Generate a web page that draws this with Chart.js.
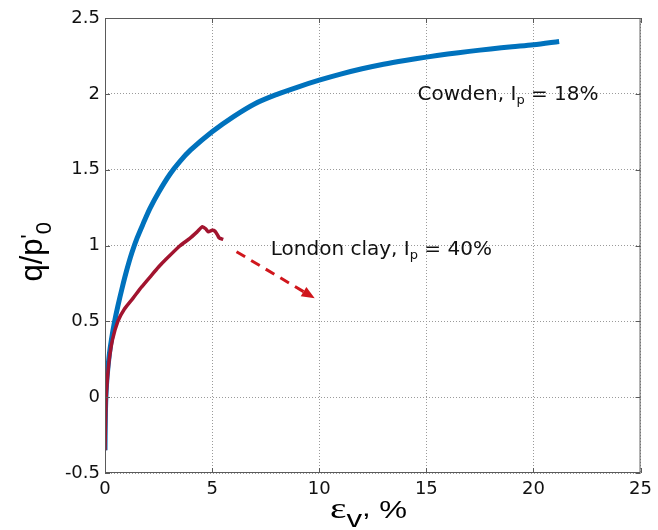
<!DOCTYPE html>
<html>
<head>
<meta charset="utf-8">
<script src="https://cdn.jsdelivr.net/npm/chart.js@4.4.1/dist/chart.umd.min.js"></script>
<style>
  html, body { margin: 0; padding: 0; background: #fff; }
  #wrap { width: 658px; height: 530px; }
</style>
</head>
<body>
<div id="wrap"><canvas id="chart" width="658" height="530"></canvas></div>
<script>
// axial strain (%) and normalised deviator stress q/p'0
var cowdenStrain = [0, 0.02, 0.05, 0.1, 0.2, 0.3, 0.45, 0.6, 0.8, 1.0, 1.25, 1.5, 1.8, 2.1, 2.5, 3.03, 3.5, 4, 5, 6, 7, 8, 9, 10, 11, 12, 13, 14, 15, 16, 17, 18, 19, 20, 21.2];
var cowdenQ = [-0.35, -0.1, 0.03, 0.14, 0.28, 0.38, 0.5, 0.6, 0.72, 0.83, 0.95, 1.05, 1.15, 1.245, 1.35, 1.47, 1.555, 1.63, 1.75, 1.85, 1.935, 1.995, 2.045, 2.09, 2.13, 2.165, 2.195, 2.22, 2.242, 2.262, 2.28, 2.296, 2.31, 2.323, 2.345];

var londonStrain = [0, 0.02, 0.05, 0.1, 0.2, 0.35, 0.6, 0.9, 1.32, 1.7, 2.1, 2.5, 2.87, 3.5, 3.96, 4.3, 4.55, 4.7, 4.82, 5.0, 5.13, 5.25, 5.33, 5.52];
var londonQ = [-0.35, -0.2, -0.02, 0.1, 0.25, 0.38, 0.5, 0.58, 0.655, 0.725, 0.792, 0.858, 0.912, 0.998, 1.047, 1.09, 1.124, 1.11, 1.09, 1.1, 1.095, 1.07, 1.05, 1.04];

var xTicks = [0, 5, 10, 15, 20, 25];
var yTicks = [-0.5, 0, 0.5, 1, 1.5, 2, 2.5];

function to_points(xs, ys) {
    var pts = [];
    for (var i = 0; i < xs.length; i++) {
        pts.push({x: xs[i], y: ys[i]});
    }
    return pts;
}

// draws a run of text pieces, each with its own font and baseline shift
function draw_rich(ctx, parts, x, y, sx) {
    ctx.save();
    ctx.translate(x, y);
    ctx.scale(sx || 1, 1);
    var cx = 0;
    parts.forEach(function (p) {
        ctx.font = p.f;
        ctx.fillText(p.t, cx, p.dy || 0);
        cx += ctx.measureText(p.t).width;
    });
    ctx.restore();
}

var framePlugin = {
    id: 'frame',
    afterDatasetsDraw: function (chart) {
        var ctx = chart.ctx, a = chart.chartArea;
        var xs = chart.scales.x, ys = chart.scales.y;
        ctx.save();

        // axes box with inward ticks
        ctx.strokeStyle = '#5a5a5a';
        ctx.lineWidth = 1;
        ctx.strokeRect(a.left + 0.5, a.top + 0.5, a.right - a.left - 1, a.bottom - a.top - 1);
        ctx.beginPath();
        xTicks.forEach(function (v) {
            var px = Math.round(xs.getPixelForValue(v)) + 0.5;
            ctx.moveTo(px, a.bottom); ctx.lineTo(px, a.bottom - 5);
            ctx.moveTo(px, a.top); ctx.lineTo(px, a.top + 5);
        });
        yTicks.forEach(function (v) {
            var py = Math.round(ys.getPixelForValue(v)) + 0.5;
            ctx.moveTo(a.left, py); ctx.lineTo(a.left + 5, py);
            ctx.moveTo(a.right, py); ctx.lineTo(a.right - 5, py);
        });
        ctx.stroke();

        // dashed arrow pointing away from the London clay peak
        var x0 = xs.getPixelForValue(6.14), y0 = ys.getPixelForValue(0.959);
        var x1 = xs.getPixelForValue(9.79), y1 = ys.getPixelForValue(0.652);
        var ang = Math.atan2(y1 - y0, x1 - x0);
        var head = 13;
        ctx.strokeStyle = '#d0161c';
        ctx.fillStyle = '#d0161c';
        ctx.lineWidth = 3;
        ctx.setLineDash([10, 7]);
        ctx.beginPath();
        ctx.moveTo(x0, y0);
        ctx.lineTo(x1 - head * Math.cos(ang), y1 - head * Math.sin(ang));
        ctx.stroke();
        ctx.setLineDash([]);
        ctx.beginPath();
        ctx.moveTo(x1, y1);
        ctx.lineTo(x1 - head * Math.cos(ang) + 5.5 * Math.sin(ang), y1 - head * Math.sin(ang) - 5.5 * Math.cos(ang));
        ctx.lineTo(x1 - head * Math.cos(ang) - 5.5 * Math.sin(ang), y1 - head * Math.sin(ang) + 5.5 * Math.cos(ang));
        ctx.closePath();
        ctx.fill();

        // curve labels
        ctx.fillStyle = '#111';
        ctx.textBaseline = 'alphabetic';
        ctx.textAlign = 'left';
        var big = '20px "DejaVu Sans"', sub = '13px "DejaVu Sans"';
        draw_rich(ctx, [
            {t: 'Cowden, I', f: big},
            {t: 'p', f: sub, dy: 4},
            {t: ' = 18%', f: big}
        ], xs.getPixelForValue(14.59), ys.getPixelForValue(1.959));
        draw_rich(ctx, [
            {t: 'London clay, I', f: big},
            {t: 'p', f: sub, dy: 4},
            {t: ' = 40%', f: big}
        ], xs.getPixelForValue(7.74), ys.getPixelForValue(0.937));

        // axis titles
        ctx.fillStyle = '#000';
        draw_rich(ctx, [
            {t: 'ε', f: '30px "Liberation Serif"'},
            {t: 'v', f: '24px "Liberation Sans"', dy: 9},
            {t: ',', f: '24px "Liberation Sans"', dy: -2},
            {t: ' %', f: '24px "Liberation Sans"'}
        ], 330, 518, 1.3);

        ctx.save();
        ctx.translate(42, (a.top + a.bottom) / 2 + 36);
        ctx.rotate(-Math.PI / 2);
        draw_rich(ctx, [
            {t: 'q/p', f: '31px "Liberation Sans"'},
            {t: "'", f: '22px "Liberation Sans"', dy: -6},
            {t: '0', f: '22px "Liberation Sans"', dy: 9}
        ], 0, 0);
        ctx.restore();

        ctx.restore();
    }
};

var gridStyle = {
    color: '#9a9a9a',
    lineWidth: 1,
    drawTicks: false
};

function plain_label(v) {
    return String(v);
}

var ctx = document.getElementById('chart').getContext('2d');
var myChart = new Chart(ctx, {
    type: 'scatter',
    data: {
        datasets: [{
            label: 'Cowden',
            data: to_points(cowdenStrain, cowdenQ),
            showLine: true,
            borderColor: '#0072bd',
            borderWidth: 5,
            pointRadius: 0,
            tension: 0.3,
            order: 2
        }, {
            label: 'London clay',
            data: to_points(londonStrain, londonQ),
            showLine: true,
            borderColor: '#a2142f',
            borderWidth: 3.5,
            pointRadius: 0,
            tension: 0.2,
            order: 1
        }]
    },
    options: {
        responsive: false,
        animation: false,
        events: [],
        layout: {padding: {top: 18, right: 16, left: 0, bottom: 0}},
        plugins: {legend: {display: false}, tooltip: {enabled: false}},
        scales: {
            x: {
                type: 'linear', min: 0, max: 25,
                afterBuildTicks: function (s) { s.ticks = xTicks.map(function (v) { return {value: v}; }); },
                afterFit: function (s) { s.height = 57; },
                grid: gridStyle,
                border: {display: false, dash: [1, 2]},
                ticks: {color: '#111', padding: 6, font: {family: 'DejaVu Sans', size: 18}, maxRotation: 0, callback: plain_label}
            },
            y: {
                type: 'linear', min: -0.5, max: 2.5,
                afterBuildTicks: function (s) { s.ticks = yTicks.map(function (v) { return {value: v}; }); },
                afterFit: function (s) { s.width = 105; },
                grid: gridStyle,
                border: {display: false, dash: [1, 2]},
                ticks: {color: '#111', padding: 5, font: {family: 'DejaVu Sans', size: 18}, callback: plain_label}
            }
        }
    },
    plugins: [framePlugin]
});
</script>
</body>
</html>
